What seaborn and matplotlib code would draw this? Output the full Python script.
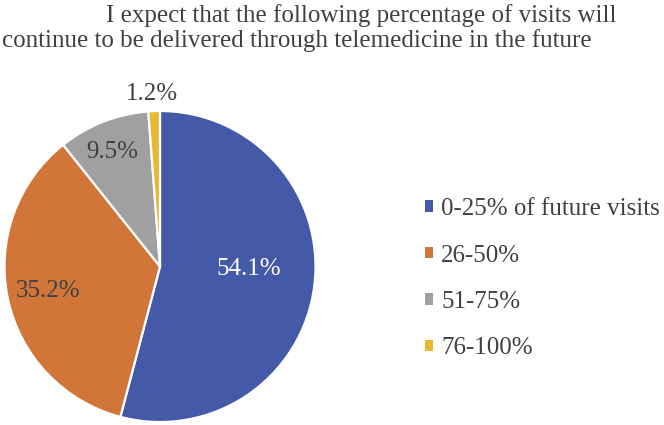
import matplotlib
matplotlib.use("Agg")
import matplotlib.pyplot as plt
import seaborn as sns
from matplotlib.patches import Patch

# ---- data ----
categories = ["0-25% of future visits", "26-50%", "51-75%", "76-100%"]
shares = [54.1, 35.2, 9.5, 1.2]
title_lines = ["I expect that the following percentage of visits will",
               "continue to be delivered through telemedicine in the future"]

# ---- layout / style ----
palette = sns.color_palette(["#4459a7", "#d17538", "#a0a0a0", "#e8b831"])
label_xy = [(0.572, -0.016), (-0.72, -0.158), (-0.309, 0.736), (-0.051, 1.11)]
label_colors = ["white", "#404040", "#404040", "#404040"]
text_color = "#404040"

sns.set_theme(style="white")
plt.rcParams["font.family"] = ["Liberation Serif", "DejaVu Serif"]

W, H = 664, 425
fig = plt.figure(figsize=(W / 100, H / 100), dpi=100)
fig.patch.set_facecolor("white")

cx, cy, r = 160, 266.5, 155.5
ax = fig.add_axes([(cx - r) / W, (H - cy - r) / H, 2 * r / W, 2 * r / H])
wedges, _ = ax.pie(shares, colors=palette, startangle=90, counterclock=False,
                   wedgeprops=dict(edgecolor="white", linewidth=1.6))
ax.set_xlim(-1, 1)
ax.set_ylim(-1, 1)
ax.set_aspect("equal")
ax.axis("off")

for v, (x, y), c in zip(shares, label_xy, label_colors):
    ax.text(x, y, f"{v:.1f}%", ha="center", va="center", fontsize=18,
            color=c, clip_on=False)

fig.text(106 / W, 1 - 22 / H, title_lines[0], ha="left", va="baseline",
         fontsize=18, color=text_color)
fig.text(2 / W, 1 - 47 / H, title_lines[1], ha="left", va="baseline",
         fontsize=18, color=text_color)

handles = [Patch(facecolor=c, edgecolor="none") for c in palette]
fig.legend(handles, categories, loc="upper left",
           bbox_to_anchor=(425 / W, 1 - 198 / H), frameon=False, fontsize=18,
           handlelength=0.33, handleheight=0.33, handletextpad=0.32,
           labelspacing=0.98, borderpad=0, borderaxespad=0,
           labelcolor=text_color)

fig.savefig("out.png", dpi=100, facecolor="white")
